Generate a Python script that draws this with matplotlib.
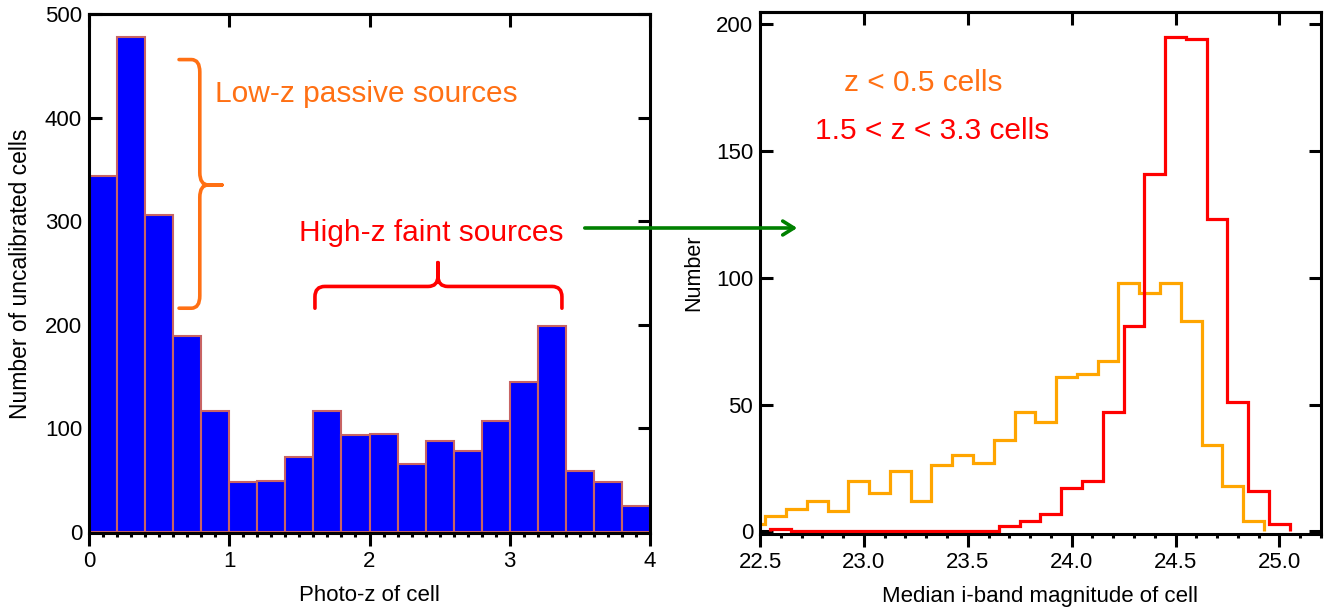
import matplotlib
matplotlib.use('Agg')
import matplotlib.pyplot as plt
from matplotlib.path import Path
from matplotlib.patches import PathPatch, FancyArrowPatch
import numpy as np

plt.rcParams['font.family'] = ['Liberation Sans', 'DejaVu Sans']

# left panel: photo-z histogram of uncalibrated cells (bin width 0.2)
z_edges = np.arange(0, 4.01, 0.2)
z_counts = [344, 478, 306, 189, 117, 48, 49, 72, 117, 94,
            95, 66, 88, 78, 107, 145, 199, 59, 48, 25]

# right panel: median i-band magnitude of cells (bin width 0.1)
lowz_edges = np.round(22.425 + 0.1 * np.arange(26), 3)
lowz_counts = [3, 6, 9, 12, 8, 20, 15, 24, 12, 26, 30, 27, 36, 47, 43,
               61, 62, 67, 98, 94, 98, 83, 34, 18, 4]
highz_edges = np.round(22.55 + 0.1 * np.arange(26), 3)
highz_counts = [1, 0, 0, 0, 0, 0, 0, 0, 0, 0, 0, 2, 4, 7, 17, 20, 47,
                81, 141, 195, 194, 123, 51, 16, 3]

BAR_BLUE = '#0000ff'
BAR_EDGE = '#c86464'
TXT_ORANGE = '#ff7014'
LINE_ORANGE = '#ffa500'
RED = '#ff0000'
GREEN = '#008000'


def style_axes(ax, major, minor):
    for s in ax.spines.values():
        s.set_linewidth(2.2)
        s.set_zorder(5)
    ax.set_xticks(major)
    ax.set_xticks(minor, minor=True)
    ax.tick_params(axis='x', which='major', direction='out', length=9,
                   width=2.2, labelsize=16, pad=4, top=False)
    ax.tick_params(axis='x', which='minor', direction='out', length=3,
                   width=2.2, top=False)
    ax.tick_params(axis='y', which='major', direction='in', length=9,
                   width=2.2, labelsize=16, pad=5, left=True, right=True)
    top = ax.secondary_xaxis('top')
    top.set_xticks(major)
    top.tick_params(direction='in', length=9, width=2.2, labeltop=False)
    top.spines['top'].set_linewidth(2.2)


def brace_path(points):
    codes = [Path.MOVETO]
    verts = [points[0]]
    for kind, pts in points[1:]:
        if kind == 'L':
            codes.append(Path.LINETO)
            verts.append(pts)
        else:
            codes += [Path.CURVE3, Path.CURVE3]
            verts += list(pts)
    return Path(verts, codes)


fig = plt.figure(figsize=(13.27, 6.08), dpi=100)
ax1 = fig.add_axes([89 / 1327, 75 / 608, 561 / 1327, 519 / 608])
ax2 = fig.add_axes([760 / 1327, 74 / 608, 561 / 1327, 522 / 608])

# ---- left panel ----
ax1.bar(z_edges[:-1], z_counts, width=0.2, align='edge', color=BAR_BLUE,
        edgecolor=BAR_EDGE, linewidth=1.5, zorder=2)
ax1.set_xlim(0, 4)
ax1.set_ylim(-1, 500)
style_axes(ax1, [0, 1, 2, 3, 4], np.arange(0, 4.01, 0.1))
ax1.set_yticks([0, 100, 200, 300, 400, 500])
ax1.set_xlabel('Photo-z of cell', fontsize=16, labelpad=9)
ax1.set_ylabel('Number of uncalibrated cells', fontsize=16.5, labelpad=9)

# orange brace over the low-z peak
xv, xh, xt = 0.79, 0.642, 0.948
yt, yb, ym = 456, 216, 335
rx, ry = 0.06, 12
orange_brace = brace_path([
    (xh, yt),
    ('L', (xv - rx, yt)), ('C', [(xv, yt), (xv, yt - ry)]),
    ('L', (xv, ym + ry)), ('C', [(xv, ym), (xv + rx, ym)]),
    ('L', (xt, ym)),
    ('L', (xv + rx, ym)), ('C', [(xv, ym), (xv, ym - ry)]),
    ('L', (xv, yb + ry)), ('C', [(xv, yb), (xv - rx, yb)]),
    ('L', (xh, yb)),
])
ax1.add_patch(PathPatch(orange_brace, fill=False, edgecolor=TXT_ORANGE,
                        linewidth=2.6, capstyle='round', joinstyle='round',
                        zorder=4))
ax1.text(0.895, 423, 'Low-z passive sources', color=TXT_ORANGE,
         fontsize=21.5, va='center', ha='left')

# red brace over the high-z bump
x0, x1, xm = 1.611, 3.372, 2.488
yl, ye, ytip = 237, 216, 260
rx, ry = 0.07, 10
red_brace = brace_path([
    (x0, ye),
    ('L', (x0, yl - ry)), ('C', [(x0, yl), (x0 + rx, yl)]),
    ('L', (xm - rx, yl)), ('C', [(xm, yl), (xm, yl + ry)]),
    ('L', (xm, ytip)),
    ('L', (xm, yl + ry)), ('C', [(xm, yl), (xm + rx, yl)]),
    ('L', (x1 - rx, yl)), ('C', [(x1, yl), (x1, yl - ry)]),
    ('L', (x1, ye)),
])
ax1.add_patch(PathPatch(red_brace, fill=False, edgecolor=RED, linewidth=2.6,
                        capstyle='round', joinstyle='round', zorder=4))
ax1.text(1.50, 289, 'High-z faint sources', color=RED, fontsize=21.5,
         va='center', ha='left')

# ---- right panel ----
ax2.stairs(lowz_counts, lowz_edges, color=LINE_ORANGE, linewidth=2.3, zorder=3)
ax2.stairs(highz_counts, highz_edges, color=RED, linewidth=2.3, zorder=3)
ax2.set_xlim(22.5, 25.2)
ax2.set_ylim(-1, 204.7)
style_axes(ax2, [22.5, 23.0, 23.5, 24.0, 24.5, 25.0],
           np.arange(22.5, 25.21, 0.1))
ax2.set_xticklabels(['22.5', '23.0', '23.5', '24.0', '24.5', '25.0'])
ax2.set_yticks([0, 50, 100, 150, 200])
ax2.set_xlabel('Median i-band magnitude of cell', fontsize=16, labelpad=9)
ax2.set_ylabel('Number', fontsize=15.5, labelpad=8)
ax2.text(0.291, 0.864, 'z < 0.5 cells', color=TXT_ORANGE, fontsize=21.5,
         transform=ax2.transAxes, ha='center', va='center')
ax2.text(0.307, 0.772, '1.5 < z < 3.3 cells', color=RED, fontsize=21.5,
         transform=ax2.transAxes, ha='center', va='center')

# arrow linking the high-z sources to the right panel
fig.add_artist(FancyArrowPatch(
    (582 / 1327, 1 - 228 / 608), (800 / 1327, 1 - 228 / 608),
    transform=fig.transFigure, arrowstyle='->,head_length=8,head_width=5',
    color=GREEN, linewidth=2.6, mutation_scale=1))

fig.savefig('out.png', dpi=100)
